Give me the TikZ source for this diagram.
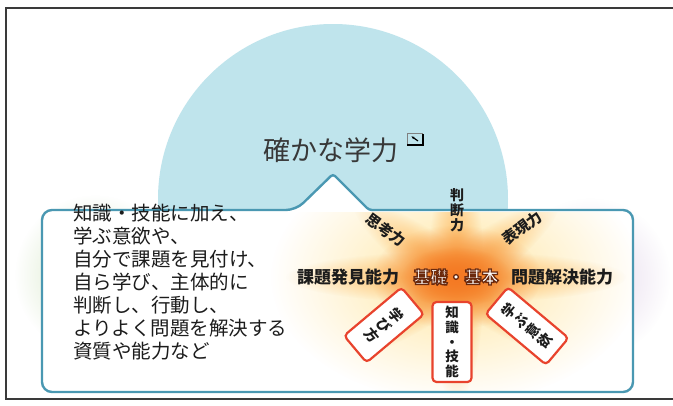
\documentclass[tikz,border=0pt]{standalone}
\usepackage{fontspec}
\setmainfont{Noto Sans CJK JP}
\usetikzlibrary{positioning, fadings, arrows.meta}

\definecolor{framegray}{HTML}{3A3A3A}
\definecolor{bubbleblue}{HTML}{BFE4EC}
\definecolor{sidegreen}{HTML}{CFE3BC}
\definecolor{sidepurple}{HTML}{E3D5EA}
\definecolor{calloutteal}{HTML}{4A98B2}
\definecolor{titlegray}{HTML}{383838}
\definecolor{inkdark}{HTML}{1C1C1C}
\definecolor{boxred}{HTML}{E8432D}
\definecolor{glowpale}{HTML}{FFE6A0}
\definecolor{glowmid}{HTML}{FDB65A}
\definecolor{glowcore}{HTML}{F47A24}

\tikzfading[name=softglow, inner color=transparent!0, outer color=transparent!100]

% outlined text: white fill, brown stroke
\newcommand{\outlined}[1]{\special{pdf:literal 2 Tr 0.42 0.16 0.05 RG 1.3 w}#1\special{pdf:literal 0 Tr}}

\begin{document}
\begin{tikzpicture}[
    x=1pt, y=-1pt,
    skill/.style={font=\fontsize{17}{18}\selectfont\bfseries, text=inkdark, inner sep=1},
    vskill/.style={skill, align=center, font=\fontsize{14}{15}\selectfont\bfseries},
    redbox/.style={draw=boxred, line width=2.2, rounded corners=4, fill=white, inner sep=0,
                   align=center, text=inkdark, font=\fontsize{14}{15.5}\selectfont\bfseries},
    glow/.style={path fading=softglow}
]

% -------------------------
% Canvas and Frame
% -------------------------
\useasboundingbox (0,0) rectangle (673,405);
\fill[white] (0,0) rectangle (673,405);
\draw[framegray, line width=1.3] (673,8) -- (6,8) -- (6,399) -- (673,399);

% -------------------------
% Background Circles
% -------------------------
\fill[bubbleblue] (333,199) circle (175);
\fill[sidegreen, glow] (95,275) circle (80);
\fill[sidepurple, glow] (590,278) circle (80);

\node[font=\fontsize{27}{30}\selectfont, text=titlegray] (title) at (331,150) {確かな学力};

% small expand icon
\draw[gray, line width=0.6] (407,146) -- (407,133) -- (423,133);
\draw[black, line width=1.8] (407,145) -- (423,145) -- (423,134);
\draw[black, line width=1.2, -{Latex[length=3.5]}] (418,141) -- (411,136);

% -------------------------
% Callout Box
% -------------------------
\draw[calloutteal, line width=2.4, fill=white, rounded corners=10]
    (42,300) -- (42,210) -- (296,210) [rounded corners=3] -- (333,174)
    -- (369,210) [rounded corners=10] -- (633,210) -- (633,392) -- (42,392) -- cycle;

\node[anchor=north west, align=left, inner sep=0, text=inkdark,
      font=\fontsize{19.5}{23}\selectfont] (summary) at (73,204)
    {知識・技能に加え、\\学ぶ意欲や、\\自分で課題を見付け、\\自ら学び、主体的に\\判断し、行動し、\\よりよく問題を解決する\\資質や能力など};

% -------------------------
% Starburst Glow (kept inside the box)
% -------------------------
\coordinate (hub) at (456,277);
\begin{scope}
    \clip (44,212) rectangle (631,390);
    \fill[glowpale, glow] (hub) ellipse (185 and 125);
    \fill[glowmid, glow] (hub) ellipse (170 and 26);
    \fill[glowmid, glow] (hub) ellipse (28 and 125);
    \begin{scope}[transform canvas={rotate around={36:(hub)}}]
        \fill[glowmid, glow] (hub) ellipse (125 and 26);
    \end{scope}
    \begin{scope}[transform canvas={rotate around={-36:(hub)}}]
        \fill[glowmid, glow] (hub) ellipse (125 and 26);
    \end{scope}
    \fill[glowcore, glow] (hub) ellipse (85 and 52);
    \fill[glowcore, glow] (hub) ellipse (55 and 30);
\end{scope}

% -------------------------
% Skill Labels
% -------------------------
\node[skill, text=white] (kiso) at (hub) {\outlined{基礎・基本}};
\node[skill] (kadai) at (348,277) {課題発見能力};
\node[skill] (mondai) at (562,277) {問題解決能力};
\node[vskill] (handan) at (457,210) {判\\断\\力};
\node[skill, font=\fontsize{15}{16}\selectfont\bfseries, rotate=-36] (shiko) at (386,230) {思考力};
\node[skill, font=\fontsize{15}{16}\selectfont\bfseries, rotate=36] (hyogen) at (522,228) {表現力};

% -------------------------
% Red Boxes
% -------------------------
\node[redbox, minimum width=35, minimum height=75, rotate=-50] (manabikata) at (384,325) {学\\び\\方};
\node[redbox, minimum width=39, minimum height=80, font=\fontsize{13.5}{14.8}\selectfont\bfseries] (chishiki) at (452,342) {知\\識\\・\\技\\能};
\node[redbox, minimum width=35, minimum height=79, rotate=50] (iyoku) at (527,326) {学\\ぶ\\意\\欲};

\end{tikzpicture}
\end{document}
